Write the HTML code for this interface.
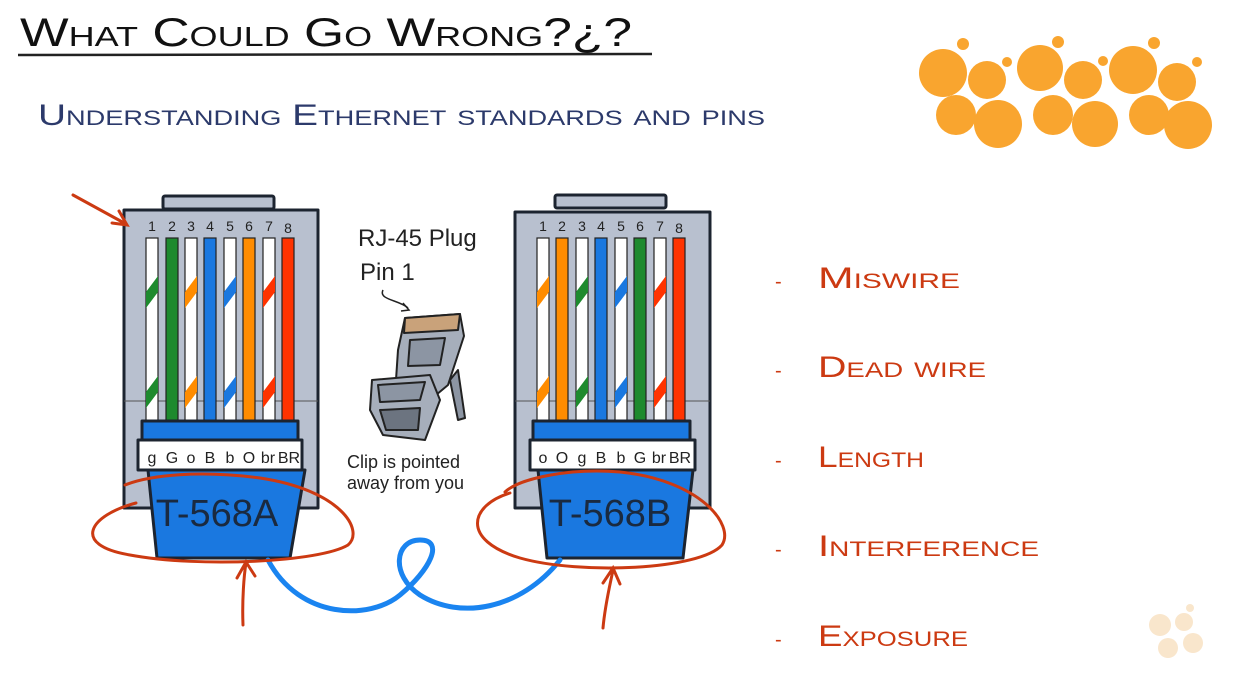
<!DOCTYPE html>
<html><head><meta charset="utf-8"><style>
html,body{margin:0;padding:0;background:#fff;width:1248px;height:685px;overflow:hidden}
svg{display:block}
text{font-family:"Liberation Sans",sans-serif}
.sc{font-variant:small-caps}
</style></head><body>
<svg width="1248" height="685" viewBox="0 0 1248 685" xmlns="http://www.w3.org/2000/svg">
<text x="20" y="46" class="sc" font-size="40" fill="#111" textLength="612" lengthAdjust="spacingAndGlyphs">What Could Go Wrong?¿?</text>
<path d="M18 55 L652 54" stroke="#222" stroke-width="2.5"/>
<text x="38" y="125" class="sc" font-size="30" fill="#2c3a6b" textLength="727" lengthAdjust="spacingAndGlyphs">Understanding Ethernet standards and pins</text>

<g fill="#f9a52f">
<circle cx="943" cy="73" r="24"/><circle cx="987" cy="80" r="19"/><circle cx="1040" cy="68" r="23"/><circle cx="1083" cy="80" r="19"/><circle cx="1133" cy="70" r="24"/><circle cx="1177" cy="82" r="19"/>
<circle cx="956" cy="115" r="20"/><circle cx="998" cy="124" r="24"/><circle cx="1053" cy="115" r="20"/><circle cx="1095" cy="124" r="23"/><circle cx="1149" cy="115" r="20"/><circle cx="1188" cy="125" r="24"/>
<circle cx="963" cy="44" r="6"/><circle cx="1007" cy="62" r="5"/><circle cx="1058" cy="42" r="6"/><circle cx="1103" cy="61" r="5"/><circle cx="1154" cy="43" r="6"/><circle cx="1197" cy="62" r="5"/>
</g>
<g fill="#f9e6cc"><circle cx="1160" cy="625" r="11"/><circle cx="1184" cy="622" r="9"/><circle cx="1168" cy="648" r="10"/><circle cx="1193" cy="643" r="10"/><circle cx="1190" cy="608" r="4"/></g>

<g stroke="#1c2430" stroke-width="3" stroke-linejoin="round">
<rect x="163" y="196" width="111" height="13" fill="#b8c0cf" rx="2"/>
<rect x="124" y="210" width="194" height="298" fill="#b8c0cf"/>
<rect x="515" y="212" width="195" height="296" fill="#b8c0cf"/>
<rect x="555" y="195" width="111" height="13" fill="#b8c0cf" rx="2"/>
</g>
<path d="M124 401 H318 M515 401 H710" stroke="#555" stroke-width="1"/>

<g stroke="#222" stroke-width="1.2">
<rect x="146" y="238" width="12" height="184" fill="#fff"/>
<rect x="166" y="238" width="12" height="184" fill="#1e8a2e"/>
<rect x="185" y="238" width="12" height="184" fill="#fff"/>
<rect x="204" y="238" width="12" height="184" fill="#1a78e0"/>
<rect x="224" y="238" width="12" height="184" fill="#fff"/>
<rect x="243" y="238" width="12" height="184" fill="#ff8c00"/>
<rect x="263" y="238" width="12" height="184" fill="#fff"/>
<rect x="282" y="238" width="12" height="184" fill="#ff3300"/>
</g>
<g stroke="none">
<polygon points="146,292 158,276 158,292 146,308" fill="#1e8a2e"/><polygon points="146,392 158,376 158,392 146,408" fill="#1e8a2e"/>
<polygon points="185,292 197,276 197,292 185,308" fill="#ff8c00"/><polygon points="185,392 197,376 197,392 185,408" fill="#ff8c00"/>
<polygon points="224,292 236,276 236,292 224,308" fill="#1a78e0"/><polygon points="224,392 236,376 236,392 224,408" fill="#1a78e0"/>
<polygon points="263,292 275,276 275,292 263,308" fill="#ff3300"/><polygon points="263,392 275,376 275,392 263,408" fill="#ff3300"/>
</g>
<g stroke="#222" stroke-width="1.2">
<rect x="537" y="238" width="12" height="184" fill="#fff"/>
<rect x="556" y="238" width="12" height="184" fill="#ff8c00"/>
<rect x="576" y="238" width="12" height="184" fill="#fff"/>
<rect x="595" y="238" width="12" height="184" fill="#1a78e0"/>
<rect x="615" y="238" width="12" height="184" fill="#fff"/>
<rect x="634" y="238" width="12" height="184" fill="#1e8a2e"/>
<rect x="654" y="238" width="12" height="184" fill="#fff"/>
<rect x="673" y="238" width="12" height="184" fill="#ff3300"/>
</g>
<g stroke="none">
<polygon points="537,292 549,276 549,292 537,308" fill="#ff8c00"/><polygon points="537,392 549,376 549,392 537,408" fill="#ff8c00"/>
<polygon points="576,292 588,276 588,292 576,308" fill="#1e8a2e"/><polygon points="576,392 588,376 588,392 576,408" fill="#1e8a2e"/>
<polygon points="615,292 627,276 627,292 615,308" fill="#1a78e0"/><polygon points="615,392 627,376 627,392 615,408" fill="#1a78e0"/>
<polygon points="654,292 666,276 666,292 654,308" fill="#ff3300"/><polygon points="654,392 666,376 666,392 654,408" fill="#ff3300"/>
</g>
<g font-size="14" fill="#222" text-anchor="middle">
<text x="152" y="231">1</text><text x="172" y="231">2</text><text x="191" y="231">3</text><text x="210" y="231">4</text><text x="230" y="231">5</text><text x="249" y="231">6</text><text x="269" y="231">7</text><text x="288" y="233">8</text>
<text x="543" y="231">1</text><text x="562" y="231">2</text><text x="582" y="231">3</text><text x="601" y="231">4</text><text x="621" y="231">5</text><text x="640" y="231">6</text><text x="660" y="231">7</text><text x="679" y="233">8</text>
</g>
<g stroke="#1c2430" stroke-width="3" stroke-linejoin="round">
<rect x="142" y="421" width="156" height="20" fill="#1a78e0"/>
<polygon points="148,470 305,470 290,558 157,558" fill="#1a78e0"/>
<rect x="138" y="440" width="164" height="30" fill="#fff"/>
<rect x="533" y="421" width="157" height="20" fill="#1a78e0"/>
<polygon points="538,470 693,470 683,558 547,558" fill="#1a78e0"/>
<rect x="530" y="440" width="165" height="30" fill="#fff"/>
</g>
<g font-size="16" fill="#222" text-anchor="middle">
<text x="152" y="463">g</text><text x="172" y="463">G</text><text x="191" y="463">o</text><text x="210" y="463">B</text><text x="230" y="463">b</text><text x="249" y="463">O</text><text x="268" y="463">br</text><text x="289" y="463">BR</text>
<text x="543" y="463">o</text><text x="562" y="463">O</text><text x="582" y="463">g</text><text x="601" y="463">B</text><text x="621" y="463">b</text><text x="640" y="463">G</text><text x="659" y="463">br</text><text x="680" y="463">BR</text>
</g>
<text x="217" y="526" font-size="38" fill="#1a2a40" text-anchor="middle">T-568A</text>
<text x="610" y="526" font-size="38" fill="#1a2a40" text-anchor="middle">T-568B</text>

<path d="M268 560 C300 620 370 620 400 595 C430 570 445 540 420 540 C395 540 390 575 420 595 C460 620 520 610 560 560" fill="none" stroke="#1a84f0" stroke-width="5" stroke-linecap="round"/>

<text x="358" y="246" font-size="24" fill="#222">RJ-45 Plug</text>
<text x="360" y="280" font-size="24" fill="#222">Pin 1</text>
<path d="M383 290 C378 300 400 300 408 308" fill="none" stroke="#222" stroke-width="1.5"/>
<path d="M403 303 L409 310 L401 311" fill="none" stroke="#222" stroke-width="1.5"/>
<g stroke="#222" stroke-width="2" stroke-linejoin="round">
<polygon points="450,380 458,370 465,418 458,420" fill="#8c95a3"/>
<polygon points="405,318 460,314 464,336 448,385 430,400 395,395 398,350" fill="#a6aebb"/>
<polygon points="405,318 460,314 458,330 404,333" fill="#c9a27a"/>
<polygon points="372,380 430,375 440,400 425,440 383,435 370,410" fill="#a6aebb"/>
<polygon points="378,385 425,382 420,400 380,402" fill="#8c95a3"/>
<polygon points="380,410 420,408 418,430 386,430" fill="#6c7480"/>
<polygon points="410,340 445,338 440,365 408,366" fill="#8c95a3"/>
</g>
<text x="347" y="468" font-size="18" fill="#222">Clip is pointed</text>
<text x="347" y="489" font-size="18" fill="#222">away from you</text>

<g fill="none" stroke="#cc3a12" stroke-width="3" stroke-linecap="round">
<path d="M73 195 L126 224 M112 223 L127 225 L119 211"/>
<path d="M136 503 C90 515 70 545 130 555 C200 568 320 562 348 545 C365 530 340 490 260 478 C200 470 150 475 125 485"/>
<path d="M243 625 C242 600 244 575 246 563 M237 578 L246 562 L255 576"/>
<path d="M510 493 C470 505 460 540 520 558 C580 575 700 570 722 545 C735 525 700 480 620 472 C570 468 520 478 505 492"/>
<path d="M603 628 C605 605 610 585 613 570 M603 583 L613 568 L620 584"/>
</g>

<g fill="#cc3a12" class="sc" font-size="30">
<text x="775" y="288" font-size="20">-</text><text x="818" y="288" textLength="142" lengthAdjust="spacingAndGlyphs">Miswire</text>
<text x="775" y="377" font-size="20">-</text><text x="818" y="377" textLength="168" lengthAdjust="spacingAndGlyphs">Dead wire</text>
<text x="775" y="467" font-size="20">-</text><text x="818" y="467" textLength="106" lengthAdjust="spacingAndGlyphs">Length</text>
<text x="775" y="556" font-size="20">-</text><text x="818" y="556" textLength="221" lengthAdjust="spacingAndGlyphs">Interference</text>
<text x="775" y="646" font-size="20">-</text><text x="818" y="646" textLength="150" lengthAdjust="spacingAndGlyphs">Exposure</text>
</g>
</svg>
</body></html>
